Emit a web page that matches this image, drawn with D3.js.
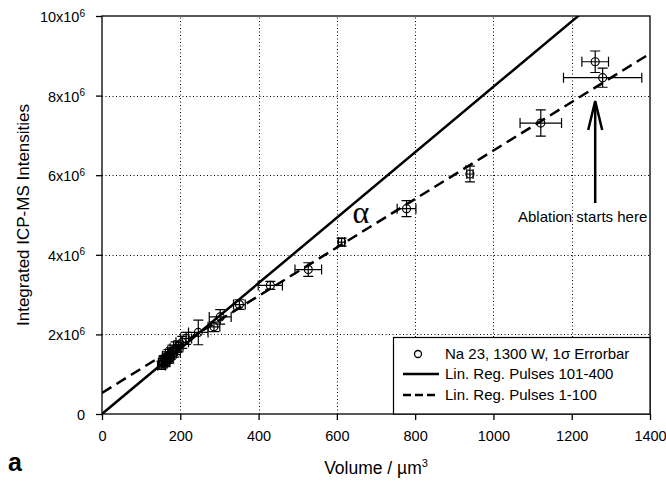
<!DOCTYPE html>
<html lang="en">
<head>
<meta charset="UTF-8">
<title>Na 23 volume vs intensity</title>
<script src="https://d3js.org/d3.v7.min.js"></script>
<style>
  body { margin: 0; background: #fff; }
  svg { display: block; font-family: 'Liberation Sans', Arial, sans-serif; }
</style>
</head>
<body>
<div id="chart"></div>
<script>
// measured points (volume in um^3, intensity in 1e6 counts) and 1 sigma errors
const volume    = [152, 156, 160, 163, 166, 170, 172, 176, 180, 184, 188, 195, 205, 215,
                   246, 286, 302, 351, 430, 527, 612, 778, 940, 1121, 1260, 1279];
const intensity = [1.22, 1.28, 1.35, 1.30, 1.42, 1.47, 1.40, 1.52, 1.58, 1.55, 1.65, 1.70, 1.80, 1.90,
                   2.05, 2.19, 2.44, 2.75, 3.23, 3.63, 4.32, 5.16, 6.03, 7.31, 8.85, 8.45];
const volErr    = [10, 12, 14, 10, 12, 15, 10, 14, 12, 16, 14, 12, 16, 14,
                   25, 15, 28, 15, 31, 34, 8, 24, 8, 53, 34, 100];
const intErr    = [0.10, 0.12, 0.12, 0.10, 0.14, 0.15, 0.12, 0.14, 0.15, 0.12, 0.16, 0.14, 0.15, 0.15,
                   0.31, 0.12, 0.18, 0.12, 0.10, 0.17, 0.10, 0.20, 0.20, 0.33, 0.27, 0.24];

// regression lines: [intercept (1e6), slope (1e6 per um^3)]
const regPulses101to400 = [0, 0.00822];
const regPulses1to100   = [0.53, 0.00609];

const xTicks = [0, 200, 400, 600, 800, 1000, 1200, 1400];
const yTicks = [0, 2, 4, 6, 8, 10];
const legendLabels = ['Na 23, 1300 W, 1\u03c3 Errorbar', 'Lin. Reg. Pulses 101-400', 'Lin. Reg. Pulses 1-100'];

const W = 666, H = 481;
const m = { left: 102, right: 16, top: 16, bottom: 67 };

const svg = d3.select('#chart').append('svg').attr('width', W).attr('height', H);

const x = d3.scaleLinear().domain([0, 1400]).range([m.left, W - m.right]);
const y = d3.scaleLinear().domain([0, 10]).range([H - m.bottom, m.top]);

svg.append('defs').append('clipPath').attr('id', 'clip')
  .append('rect')
  .attr('x', x(0)).attr('y', y(10))
  .attr('width', x(1400) - x(0)).attr('height', y(0) - y(10));

// dotted grid
const grid = svg.append('g').attr('stroke', '#000').attr('stroke-width', 1)
  .attr('stroke-dasharray', '1,2.5');
grid.selectAll('.vg').data(xTicks.slice(1, -1)).enter().append('line')
  .attr('x1', d => Math.round(x(d)) + 0.5).attr('x2', d => Math.round(x(d)) + 0.5)
  .attr('y1', y(0)).attr('y2', y(10));
grid.selectAll('.hg').data(yTicks.slice(1, -1)).enter().append('line')
  .attr('y1', d => Math.round(y(d)) + 0.5).attr('y2', d => Math.round(y(d)) + 0.5)
  .attr('x1', x(0)).attr('x2', x(1400));

// regression lines
const plot = svg.append('g').attr('clip-path', 'url(#clip)');
const regLine = (r) => d3.line()
  .x(d => x(d)).y(d => y(r[0] + r[1] * d))([0, 1400]);
plot.append('path').attr('d', regLine(regPulses101to400))
  .attr('fill', 'none').attr('stroke', '#000').attr('stroke-width', 2.5);
plot.append('path').attr('d', regLine(regPulses1to100))
  .attr('fill', 'none').attr('stroke', '#000').attr('stroke-width', 2.5)
  .attr('stroke-dasharray', '11,6');

// error bars + points
const pts = volume.map((v, i) => ({ v: v, I: intensity[i], ex: volErr[i], ey: intErr[i] }));
const eb = plot.append('g').attr('stroke', '#000').attr('stroke-width', 1.2).attr('fill', 'none');
const cap = 5;
pts.forEach(p => {
  const cx = x(p.v), cy = y(p.I);
  const x0 = x(p.v - p.ex), x1 = x(p.v + p.ex);
  const y0 = y(p.I - p.ey), y1 = y(p.I + p.ey);
  eb.append('path').attr('d',
    `M${x0},${cy}H${x1}M${x0},${cy - cap}V${cy + cap}M${x1},${cy - cap}V${cy + cap}` +
    `M${cx},${y0}V${y1}M${cx - cap},${y0}H${cx + cap}M${cx - cap},${y1}H${cx + cap}`);
});
plot.selectAll('.pt').data(pts).enter().append('circle')
  .attr('cx', d => x(d.v)).attr('cy', d => y(d.I)).attr('r', 4)
  .attr('fill', 'none').attr('stroke', '#000').attr('stroke-width', 1.2);

// frame
svg.append('rect')
  .attr('x', x(0)).attr('y', y(10))
  .attr('width', x(1400) - x(0)).attr('height', y(0) - y(10))
  .attr('fill', 'none').attr('stroke', '#000').attr('stroke-width', 1.3);

// axes
const xAxis = svg.append('g').attr('transform', `translate(0,${y(0)})`)
  .call(d3.axisBottom(x).tickValues(xTicks).tickFormat(d3.format('d'))
    .tickSize(6).tickSizeOuter(0).tickPadding(11));
xAxis.select('.domain').remove();
xAxis.selectAll('line').attr('stroke-width', 1.3);
xAxis.selectAll('text').attr('font-size', 14.5).attr('font-family', 'Liberation Sans, Arial, sans-serif');

const yAxis = svg.append('g').attr('transform', `translate(${x(0)},0)`)
  .call(d3.axisLeft(y).tickValues(yTicks).tickSize(6).tickSizeOuter(0).tickFormat(''));
yAxis.select('.domain').remove();
yAxis.selectAll('line').attr('stroke-width', 1.3);
yAxis.selectAll('.tick').each(function (d) {
  const t = d3.select(this).append('text')
    .attr('x', -17).attr('dy', '0.38em').attr('text-anchor', 'end')
    .attr('font-size', 14.5).attr('fill', '#000');
  if (d === 0) { t.text('0'); return; }
  t.append('tspan').text(d + 'x10');
  t.append('tspan').attr('font-size', 10).attr('dy', '-0.55em').text('6');
});

// axis titles
svg.append('text')
  .attr('x', (x(0) + x(1400)) / 2).attr('y', 474)
  .attr('text-anchor', 'middle').attr('font-size', 17.5)
  .call(t => {
    t.append('tspan').text('Volume / \u00b5m');
    t.append('tspan').attr('font-size', 11).attr('dy', '-0.6em').text('3');
  });
svg.append('text')
  .attr('transform', `translate(29,${(y(0) + y(10)) / 2}) rotate(-90)`)
  .attr('text-anchor', 'middle').attr('font-size', 17)
  .text('Integrated ICP-MS Intensities');

svg.append('text').attr('x', 8).attr('y', 471)
  .attr('font-size', 25).attr('font-weight', 'bold').text('a');

// alpha marker between lines
svg.append('text').attr('x', 361).attr('y', 223)
  .attr('text-anchor', 'middle').attr('font-size', 32)
  .attr('font-family', 'Liberation Serif, serif').text('\u03b1');

// annotation arrow
const ax = x(1260);
const ann = svg.append('g').attr('stroke', '#000').attr('stroke-width', 2.5).attr('fill', 'none');
ann.append('line').attr('x1', ax).attr('x2', ax).attr('y1', 203).attr('y2', 102);
ann.append('path').attr('d', `M${ax - 7},130L${ax},101L${ax + 7},130`);
svg.append('text').attr('x', 518).attr('y', 222)
  .attr('font-size', 15).text('Ablation starts here');

// legend
const lg = svg.append('g');
lg.append('rect').attr('x', 393.5).attr('y', 337.5)
  .attr('width', x(1400) - 393.5).attr('height', y(0) - 337.5)
  .attr('fill', '#fff').attr('stroke', '#000').attr('stroke-width', 1.2);
const rowY = [354, 374, 395];
lg.append('circle').attr('cx', 418).attr('cy', rowY[0]).attr('r', 3.5)
  .attr('fill', 'none').attr('stroke', '#000').attr('stroke-width', 1.3);
lg.append('line').attr('x1', 403).attr('x2', 439).attr('y1', rowY[1]).attr('y2', rowY[1])
  .attr('stroke', '#000').attr('stroke-width', 2.5);
lg.append('line').attr('x1', 403).attr('x2', 439).attr('y1', rowY[2]).attr('y2', rowY[2])
  .attr('stroke', '#000').attr('stroke-width', 2.5).attr('stroke-dasharray', '8,4');
lg.selectAll('.lt').data(legendLabels).enter().append('text')
  .attr('x', 445).attr('y', (d, i) => rowY[i]).attr('dy', '0.36em')
  .attr('font-size', 15).text(d => d);
</script>
</body>
</html>
